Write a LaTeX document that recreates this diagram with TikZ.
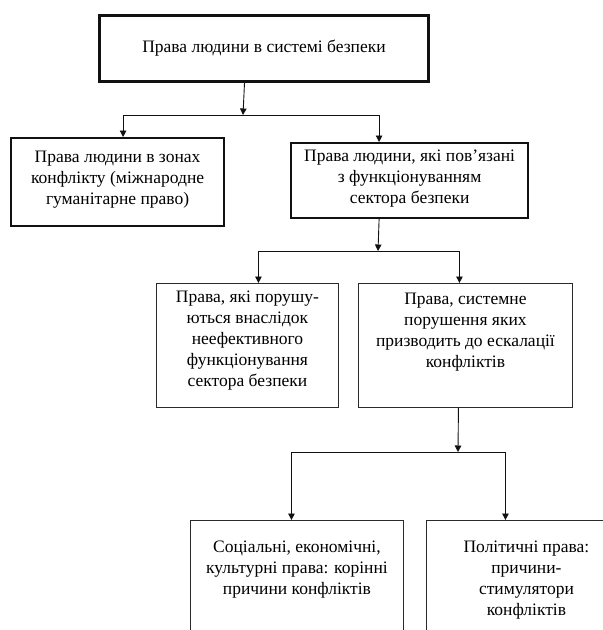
\documentclass[tikz,border=0pt]{standalone}
\usepackage{fontspec}
\setmainfont{Liberation Serif}
\usepackage{tikz}
\usetikzlibrary{arrows.meta,positioning,calc}
\usepackage{xcolor}
\definecolor{Ink}{HTML}{111111}
\definecolor{Frame}{HTML}{2A2A2A}
\tikzset{
  rootbox/.style={draw=Ink, line width=3pt, fill=white, anchor=north west, inner sep=0pt},
  mainbox/.style={draw=Ink, line width=2.2pt, fill=white, anchor=north west, inner sep=0pt},
  subbox/.style={draw=Frame, line width=0.9pt, fill=white, anchor=north west, inner sep=0pt},
  txt/.style={align=center, inner sep=0pt, anchor=north, font=\fontsize{17.5}{21}\selectfont},
  arrow/.style={-{Triangle[length=6.5pt, width=6.5pt]}, line width=0.9pt, draw=Ink}
}

\begin{document}
\begin{tikzpicture}[x=1pt, y=-1pt]
\useasboundingbox (0,0) rectangle (603,630);
\clip (0,0) rectangle (603,630);
% boxes
\node[rootbox, minimum width=329pt, minimum height=66pt] (b0) at (98,14) {};
\node[mainbox, minimum width=213pt, minimum height=88pt] (b1) at (10,137) {};
\node[mainbox, minimum width=237pt, minimum height=75pt] (b2) at (290,142) {};
\node[subbox, minimum width=182pt, minimum height=124pt] (b3) at (156,283) {};
\node[subbox, minimum width=214pt, minimum height=124pt] (b4) at (358,283) {};
\node[subbox, minimum width=213pt, minimum height=140pt] (b5) at (190,520) {};
\node[subbox, minimum width=200pt, minimum height=140pt] (b6) at (426,520) {};
% texts
\node[txt, anchor=center] (t0) at (b0.center) {Права людини в системі безпеки};
\node[txt, anchor=center] (t1) at ($(b1.center)+(0,-2)$) {Права людини в зонах\\конфлікту (міжнародне\\гуманітарне право)};
\node[txt, anchor=center] (t2) at ($(b2.center)+(0,-2)$) {Права людини, які пов’язані\\з функціонуванням\\сектора безпеки};
\node[txt] (t3) at ($(b3.north)+(0,8)$) {Права, які порушу-\\ються внаслідок\\неефективного\\функціонування\\сектора безпеки};
\node[txt] (t4) at ($(b4.north)+(0,10)$) {Права, системне\\порушення яких\\призводить до ескалації\\конфліктів};
\node[txt] (t5) at ($(b5.north)+(0,21)$) {Соціальні, економічні,\\культурні права: корінні\\причини конфліктів};
\node[txt] (t6) at ($(b6.north)+(0,21)$) {Політичні права:\\причини-\\стимулятори\\конфліктів};
% junctions
\coordinate (j0) at (243,115);
\coordinate (j1) at (378,251);
\coordinate (j2) at (458,452);
% connectors
\draw[arrow] ([xshift=-19.5pt]b0.south) -- (j0);
\draw[arrow] (j0) -| ([xshift=5.5pt]b1.north);
\draw[arrow] (j0) -| ([xshift=-30.5pt]b2.north);
\draw[arrow] ([xshift=-30.5pt]b2.south) -- (j1);
\draw[arrow] (j1) -| ([xshift=11pt]b3.north);
\draw[arrow] (j1) -| ([xshift=-6pt]b4.north);
\draw[arrow] ([xshift=-7pt]b4.south) -- (j2);
\draw[arrow] (j2) -| ([xshift=-5.5pt]b5.north);
\draw[arrow] (j2) -| ([xshift=-21pt]b6.north);
\end{tikzpicture}
\end{document}
